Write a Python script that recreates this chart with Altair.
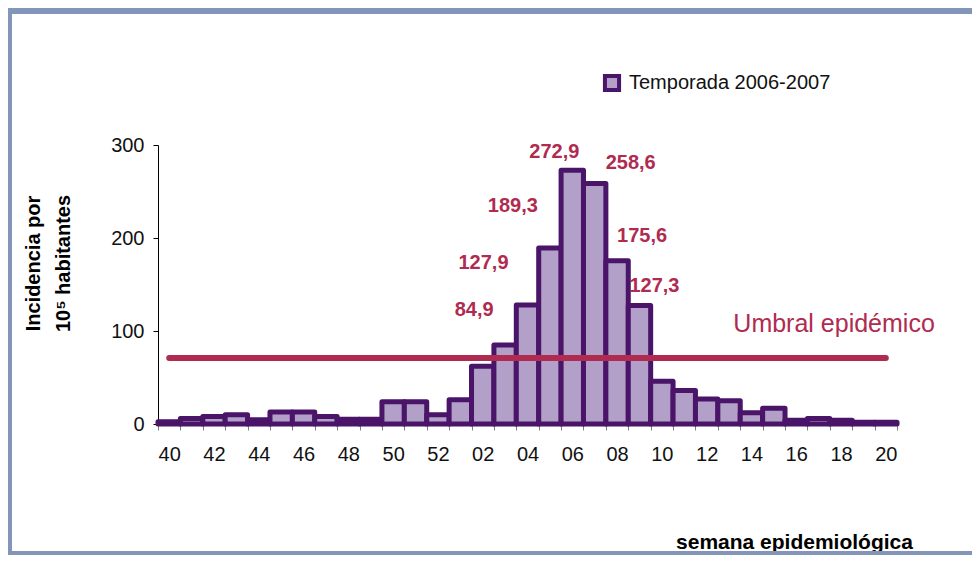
import altair as alt
import pandas as pd

# ---- data ----
weeks = ["40", "41", "42", "43", "44", "45", "46", "47", "48", "49", "50", "51", "52",
         "01", "02", "03", "04", "05", "06", "07", "08", "09", "10",
         "11", "12", "13", "14", "15", "16", "17", "18", "19", "20"]
incidence = [2.5, 6, 8, 10, 4.5, 13, 13, 8, 5, 5, 24, 24, 10,
             26, 62, 84.9, 127.9, 189.3, 272.9, 258.6, 175.6, 127.3, 46,
             36, 27, 25, 12, 17, 4, 6, 4, 2, 2]
series_name = "Temporada 2006-2007"
threshold = 71
threshold_label = "Umbral epidémico"
labelled_weeks = ["03", "04", "05", "06", "07", "08", "09"]

# ---- styles / layout ----
FONT = "Liberation Sans"
LAV = "#B2A0C8"
DARK = "#4A1469"
RED = "#AF2B50"
FRAME = "#8396BA"
# per-label offsets (px) from the bar top centre
label_offsets = {"03": (-31, -35), "04": (-44, -42), "05": (-37, -42), "06": (-18, -18),
                 "07": (36, -21), "08": (25, -25), "09": (15, -20)}

df = pd.DataFrame({"week": weeks, "value": incidence, "series": series_name})
df["label"] = [f"{v:.1f}".replace(".", ",") for v in incidence]

xscale = alt.Scale(domain=weeks, paddingInner=0, paddingOuter=0)
yscale = alt.Scale(domain=[0, 300], nice=False)

x_enc = alt.X("week:N", scale=xscale, axis=alt.Axis(
    title="semana epidemiológica",
    labelExpr="toNumber(datum.value) % 2 == 0 ? datum.value : ''",
    labelAngle=0, tickBand="extent", tickSize=6, tickColor="#808080",
    domainColor="#000000", labelFontSize=20, labelPadding=14, labelColor="#111111",
    titleFontSize=21, titleFontWeight="bold", titleX=636, titleY=124,
    titleBaseline="alphabetic", titleAlign="center", titleColor="#000000"))
y_enc = alt.Y("value:Q", scale=yscale, axis=alt.Axis(
    values=[0, 100, 200, 300], grid=False, tickSize=5, tickColor="#000000",
    domainColor="#000000", labelFontSize=20, labelPadding=9, labelColor="#111111",
    title=["Incidencia por", "10⁵ habitantes"], titleFontSize=20, titleFontWeight="bold",
    titleAngle=270, titleX=-119, titleY=118, titleBaseline="alphabetic",
    titleAlign="center", titleLineHeight=30, titleColor="#000000"))

one = pd.DataFrame({"k": [0]})
frame_top = alt.Chart(one).mark_rect(color=FRAME).encode(
    x=alt.value(-150), x2=alt.value(814), y=alt.value(-137), y2=alt.value(-131))
frame_left = alt.Chart(one).mark_rect(color=FRAME).encode(
    x=alt.value(-150), x2=alt.value(-146), y=alt.value(-137), y2=alt.value(410))
frame_bottom = alt.Chart(one).mark_rect(color=FRAME).encode(
    x=alt.value(-150), x2=alt.value(814), y=alt.value(406), y2=alt.value(410))

bars = alt.Chart(df).mark_bar(stroke=DARK, strokeWidth=5, strokeJoin="round").encode(
    x=x_enc, y=y_enc,
    fill=alt.Fill("series:N", scale=alt.Scale(range=[LAV]), legend=alt.Legend(
        title=None, orient="none", legendX=444, legendY=-72, symbolType="square",
        symbolSize=200, symbolStrokeColor=DARK, symbolStrokeWidth=4,
        labelFontSize=20, labelFont=FONT, labelOffset=7, padding=0, labelLimit=0,
        labelColor="#111111")))

thr_df = pd.DataFrame({"week": [weeks[0]], "week_end": [weeks[-1]], "value": [threshold],
                       "label": [threshold_label]})
rule = alt.Chart(thr_df).mark_rule(color=RED, strokeWidth=6, strokeCap="round").encode(
    x="week:N", x2="week_end:N", y="value:Q")
thr_text = alt.Chart(thr_df).mark_text(color=RED, fontSize=25, align="right",
                                       baseline="middle", dx=49, dy=-34).encode(
    x=alt.X("week_end:N", scale=xscale), y="value:Q", text="label:N")

label_layers = []
for w in labelled_weeks:
    dx, dy = label_offsets[w]
    label_layers.append(
        alt.Chart(df[df["week"] == w]).mark_text(
            color=RED, fontSize=20, fontWeight="bold", align="center",
            baseline="middle", dx=dx, dy=dy).encode(x="week:N", y="value:Q", text="label:N"))

chart = alt.layer(frame_top, frame_left, frame_bottom, bars, rule, thr_text, *label_layers).properties(
    width=739, height=279,
    padding={"left": 150, "top": 137, "right": 75, "bottom": 131},
    autosize=alt.AutoSizeParams(type="none"),
    background="white",
).configure(font=FONT, view=alt.ViewConfig(strokeWidth=0, stroke="transparent"))

chart.save("out.html", embed_options={"renderer": "svg", "actions": False})
